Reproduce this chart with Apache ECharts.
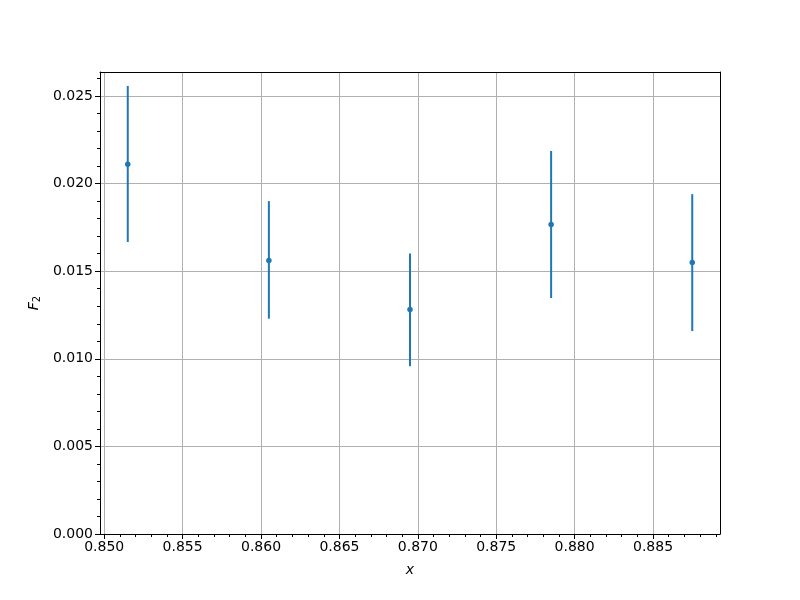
<!DOCTYPE html>
<html><head><meta charset="utf-8">
<script src="https://cdn.jsdelivr.net/npm/echarts@6/dist/echarts.min.js"></script>
<style>html,body{margin:0;padding:0;background:#fff}#c{width:800px;height:600px}</style>
</head><body><div id="c"></div>
<script>
const xValues = [0.8515, 0.8605, 0.8695, 0.8785, 0.8875];
const f2Values = [0.02110, 0.01561, 0.01281, 0.01767, 0.01549];
const errLow = [0.01667, 0.01229, 0.00958, 0.01347, 0.01158];
const errHigh = [0.02557, 0.01900, 0.01601, 0.02186, 0.01940];
const xTicks = [0.850, 0.855, 0.860, 0.865, 0.870, 0.875, 0.880, 0.885];
const xMinorTicks = [0.851,0.852,0.853,0.854,0.856,0.857,0.858,0.859,0.861,0.862,0.863,0.864,0.866,0.867,0.868,0.869,0.871,0.872,0.873,0.874,0.876,0.877,0.878,0.879,0.881,0.882,0.883,0.884,0.886,0.887,0.888,0.889];
const yTicks = [0.000, 0.005, 0.010, 0.015, 0.020, 0.025];
const yMinorTicks = [0.001,0.002,0.003,0.004,0.006,0.007,0.008,0.009,0.011,0.012,0.013,0.014,0.016,0.017,0.018,0.019,0.021,0.022,0.023,0.024,0.026];

const XMIN = 0.84973, XMAX = 0.88927, YMIN = 0, YMAX = 0.02637;
const font = 'DejaVu Sans';
const col = '#1f77b4';

const chart = echarts.init(document.getElementById('c'), null, {renderer: 'canvas'});
const errData = xValues.map((x, i) => [x, errLow[i], errHigh[i]]);
const ptData = xValues.map((x, i) => [x, f2Values[i]]);

chart.setOption({
  animation: false,
  grid: {left: 100, right: 80, top: 72, bottom: 66, show: false},
  xAxis: [
    {type: 'value', min: XMIN, max: XMAX, position: 'bottom',
     name: 'x', nameLocation: 'middle', nameGap: 29,
     nameTextStyle: {fontFamily: font, fontSize: 14, fontStyle: 'italic', color: '#000'},
     axisLine: {show: true, onZero: false, lineStyle: {color: '#000', width: 1}},
     axisTick: {show: true, customValues: xTicks, length: 5, lineStyle: {color: '#000'}},
     axisLabel: {customValues: xTicks, fontFamily: font, fontSize: 14, color: '#000', margin: 6,
       formatter: v => v.toFixed(3)},
     splitLine: {show: true, lineStyle: {color: '#b0b0b0', width: 1}}},
    {type: 'value', min: XMIN, max: XMAX, position: 'bottom',
     axisLine: {show: false, onZero: false},
     axisTick: {show: true, customValues: xMinorTicks, length: 3, lineStyle: {color: '#000'}},
     axisLabel: {show: false, customValues: xMinorTicks},
     splitLine: {show: false}},
    {type: 'value', min: XMIN, max: XMAX, position: 'top',
     axisLine: {show: true, onZero: false, lineStyle: {color: '#000', width: 1}},
     axisTick: {show: false}, axisLabel: {show: false}, splitLine: {show: false}}
  ],
  yAxis: [
    {type: 'value', min: YMIN, max: YMAX, position: 'left',
     name: '{i|F}{s|2}', nameLocation: 'middle', nameGap: 58, nameRotate: 90,
     nameTextStyle: {rich: {
       i: {fontFamily: font, fontSize: 14, fontStyle: 'italic', color: '#000'},
       s: {fontFamily: font, fontSize: 10, color: '#000', verticalAlign: 'bottom', padding: [6,0,0,0]}}},
     axisLine: {show: true, onZero: false, lineStyle: {color: '#000', width: 1}},
     axisTick: {show: true, customValues: yTicks, length: 5, lineStyle: {color: '#000'}},
     axisLabel: {customValues: yTicks, fontFamily: font, fontSize: 14, color: '#000', margin: 7,
       formatter: v => v.toFixed(3)},
     splitLine: {show: true, lineStyle: {color: '#b0b0b0', width: 1}}},
    {type: 'value', min: YMIN, max: YMAX, position: 'left',
     axisLine: {show: false, onZero: false},
     axisTick: {show: true, customValues: yMinorTicks, length: 3, lineStyle: {color: '#000'}},
     axisLabel: {show: false, customValues: yMinorTicks},
     splitLine: {show: false}},
    {type: 'value', min: YMIN, max: YMAX, position: 'right',
     axisLine: {show: true, onZero: false, lineStyle: {color: '#000', width: 1}},
     axisTick: {show: false}, axisLabel: {show: false}, splitLine: {show: false}}
  ],
  series: [
    {type: 'custom', xAxisIndex: 0, yAxisIndex: 0, data: errData,
     renderItem: (params, api) => {
       const p1 = api.coord([api.value(0), api.value(1)]);
       const p2 = api.coord([api.value(0), api.value(2)]);
       return {type: 'line', shape: {x1: p1[0], y1: p1[1], x2: p2[0], y2: p2[1]},
               style: {stroke: col, lineWidth: 2}};
     }},
    {type: 'scatter', xAxisIndex: 0, yAxisIndex: 0, data: ptData,
     symbol: 'circle', symbolSize: 5.5, itemStyle: {color: col, opacity: 1}}
  ]
});
</script></body></html>
